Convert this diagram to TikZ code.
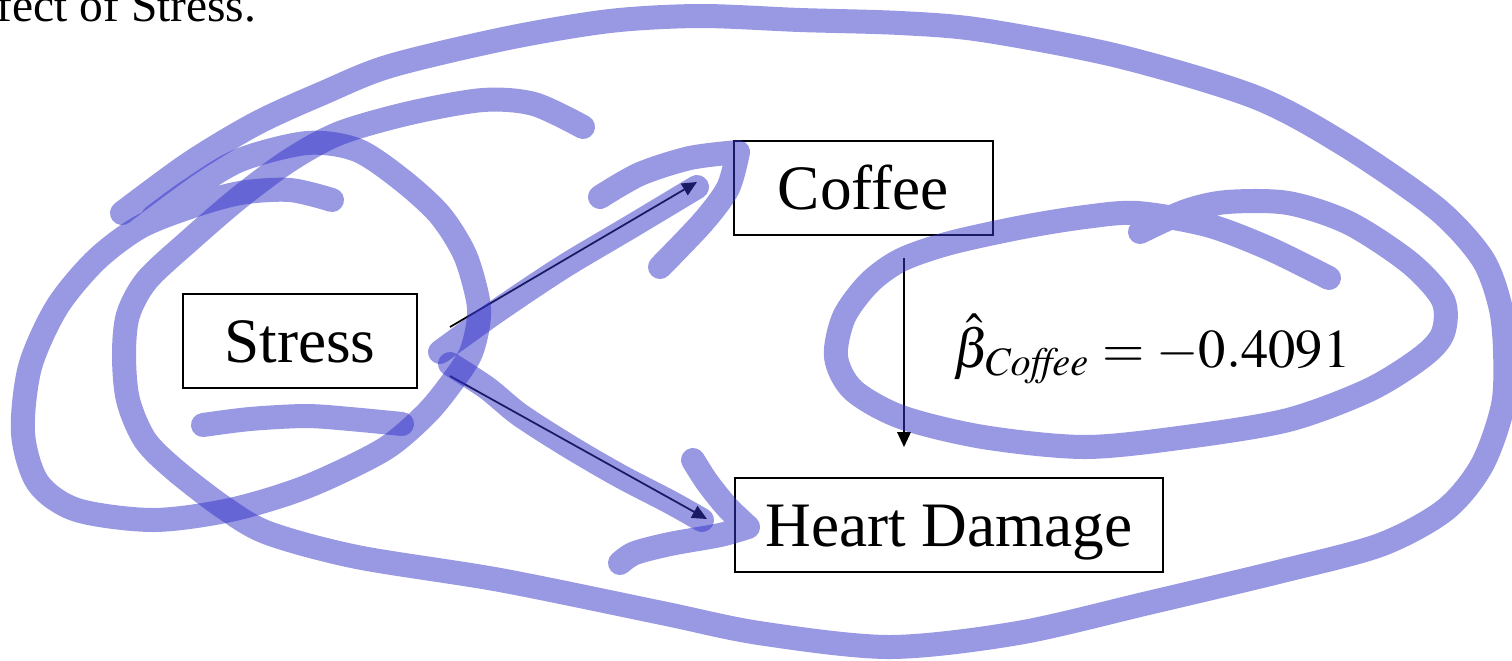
\documentclass[tikz,border=0pt]{standalone}
\usepackage{mathptmx}
\usepackage{fontspec}
\setmainfont{Liberation Serif}
\usetikzlibrary{arrows.meta}
\DeclareMathSizes{16}{16}{10}{8}
\definecolor{inkc}{RGB}{50,50,200}
\begin{document}
\begin{tikzpicture}[x=0.01cm,y=-0.01cm,
  box/.style={draw, line width=0.7pt, inner sep=0pt, minimum height=0.94cm,
    text height=12pt, text depth=0pt, font=\fontsize{18}{21}\selectfont},
  conn/.style={line width=0.5pt, -{Triangle[length=4.2pt,width=3.8pt]}},
  ink/.style={draw=inkc, draw opacity=0.5, line width=0.24cm, line cap=round, line join=round}]
\useasboundingbox (0,0) rectangle (1512,660);

% heading (cut off at the left edge)
\node[anchor=base east, inner sep=0pt, font=\fontsize{13.5}{16}\selectfont] (title) at (257,21.5) {fect of Stress.};

% boxes
\node[box, minimum width=2.34cm] (stress) at (300,341) {Stress};
\node[box, minimum width=2.59cm] (coffee) at (863.5,188) {Coffee};
\node[box, minimum width=4.28cm] (heart) at (949,525) {Heart Damage};

% estimate
\node[anchor=base west, inner sep=0pt, font=\fontsize{15.5}{19}\selectfont] (beta) at (953,367) {$\hat{\beta}_{\mathit{Coffee}} = -0.4091$};

% arrows
\coordinate (a1) at (450,327); \coordinate (a1t) at (697,182);
\coordinate (a2) at (450,376); \coordinate (a2t) at (707,519);
\coordinate (a3) at (904,258); \coordinate (a3t) at (904,447);
\draw[conn] (a1) -- (a1t);
\draw[conn] (a2) -- (a2t);
\draw[conn] (a3) -- (a3t);

% ink strokes
\draw[ink] plot[smooth] coordinates {(122,213) (190,163) (257,123) (323,93) (390,66) (508,38) (610,21) (700,16) (800,20) (900,23) (982,30) (1118,56) (1255,97) (1345,145) (1436,208) (1482,258) (1500,305) (1505,350) (1503,405) (1482,465) (1445,510) (1380,545) (1278,572) (1148,603) (1018,633) (889,647) (759,633) (662,613) (500,580) (357,557) (268,533) (223,507) (175,470) (145,440) (128,400) (124,355) (128,315) (147,280) (190,240) (240,197) (290,160) (340,133) (410,113) (483,100) (534,104) (583,127)};

\draw[ink] plot[smooth] coordinates {(153,217) (190,190) (240,160) (307,143) (357,150) (402,180) (440,215) (465,255) (478,300) (478,325) (470,355) (450,385) (425,415) (383,450) (306,487) (230,510) (153,520) (77,510) (38,483) (23,433) (30,367) (57,307) (96,260) (140,227) (190,207) (240,193) (290,190) (332,200)};

\draw[ink] plot[smooth] coordinates {(203,425) (250,419) (306,416) (350,419) (402,424)};

\draw[ink] plot[smooth] coordinates {(440,352) (497,311) (563,267) (632,226) (697,187)};
\draw[ink] plot[smooth] coordinates {(450,364) (487,388) (520,415) (570,447) (620,476) (670,502) (702,520)};

\draw[ink] plot[smooth] coordinates {(600,197) (640,174) (690,158) (738,152)}
  plot[smooth] coordinates {(738,152) (728,188) (703,222) (660,267)};

\draw[ink] plot[smooth] coordinates {(693,460) (707,482) (727,507) (748,527)}
  plot[smooth] coordinates {(748,527) (720,535) (670,544) (635,553) (620,563)};

\draw[ink] plot[smooth] coordinates {(1140,232) (1186,211) (1227,202) (1288,203) (1349,223) (1410,263) (1443,300) (1443,333) (1422,357) (1369,390) (1288,420) (1186,437) (1085,447) (983,437) (901,417) (853,390) (836,357) (844,317) (869,283) (901,260) (950,243) (1023,227) (1085,217) (1137,213) (1207,225) (1268,248) (1329,278)};
\end{tikzpicture}
\end{document}
